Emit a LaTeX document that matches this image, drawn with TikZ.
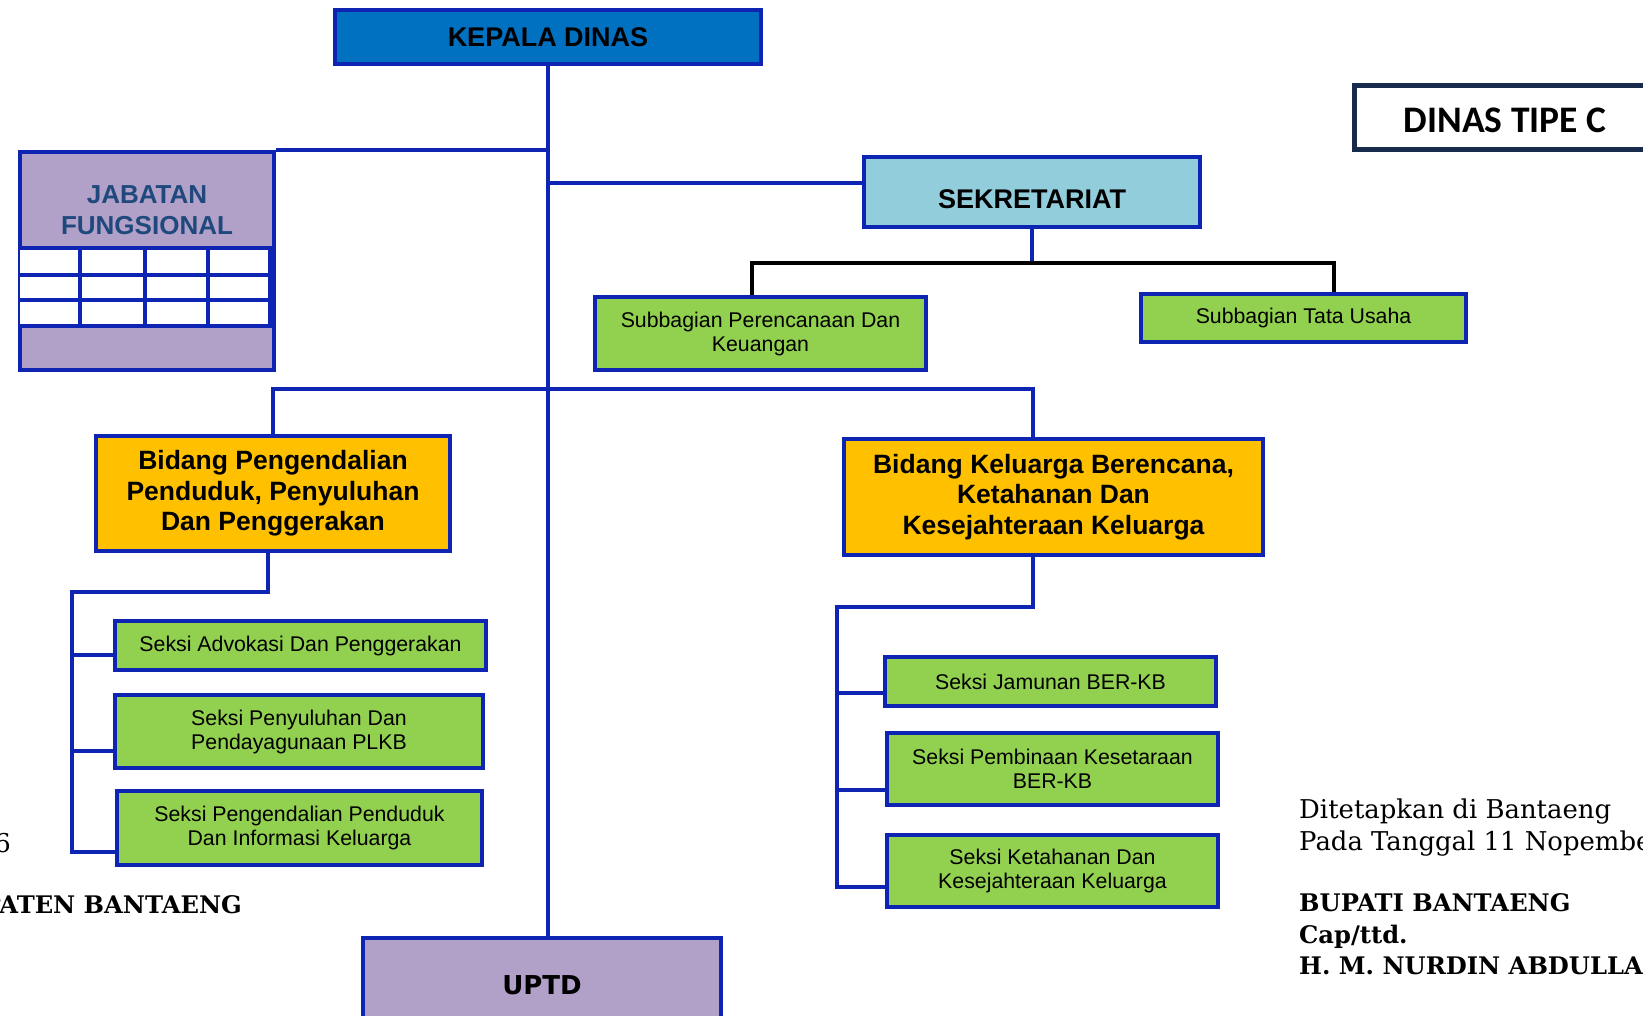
\documentclass[tikz,border=0pt]{standalone}
\usepackage{fontspec}
\setmainfont{Liberation Sans}
\newfontfamily\serifdoc{DejaVu Serif}
\newfontfamily\sansdv{DejaVu Sans}
\newfontfamily\calibri{Carlito}
\usepackage{tikz}
\usetikzlibrary{calc}

\definecolor{garis}{RGB}{13,37,178}
\definecolor{biru}{RGB}{0,112,192}
\definecolor{ungu}{RGB}{177,160,199}
\definecolor{tosca}{RGB}{146,205,220}
\definecolor{hijau}{RGB}{146,208,80}
\definecolor{kuning}{RGB}{255,192,0}
\definecolor{navy}{RGB}{23,43,77}
\definecolor{teksbiru}{RGB}{31,73,125}

\begin{document}
\begin{tikzpicture}[x=1pt,y=-1pt]
		\tikzstyle {unit box} = [draw=garis, line width=3.5pt, inner sep=0pt, align=center]
		\tikzstyle {seksi box} = [unit box, fill=hijau, font=\fontsize{21.3}{24}\selectfont]
		\tikzstyle {bidang box} = [unit box, fill=kuning, font=\bfseries\fontsize{26.5}{30.5}\selectfont]
		\tikzstyle {tree line} = [draw=garis, line width=4pt]
		\tikzstyle {black line} = [draw=black, line width=4pt]
		\tikzstyle {doc text} = [inner sep=0pt, font=\serifdoc\fontsize{25.9}{31}\selectfont]
		\tikzstyle {doc bold} = [inner sep=0pt, font=\serifdoc\bfseries\fontsize{24.2}{31}\selectfont]

		\useasboundingbox (0,0) rectangle (1643,1015);
		\fill[white] (0,0) rectangle (1643,1015);

		% background page text
		\node[doc text, anchor=base east] (nomor) at (11,852) {6};
		\node[doc bold, anchor=base east] (kab) at (242,913) {PATEN BANTAENG};
		\node[doc text, anchor=base west] (tetap) at (1299,818) {Ditetapkan di Bantaeng};
		\node[doc text, anchor=base west] (tanggal) at (1299,850) {Pada Tanggal 11 Nopember};
		\node[doc bold, anchor=base west] (bupati) at (1299,911) {BUPATI BANTAENG};
		\node[doc bold, anchor=base west] (cap) at (1299,943) {Cap/ttd.};
		\node[doc bold, anchor=base west] (nama) at (1299,974) {H. M. NURDIN ABDULLAH};

		\node[draw=navy, line width=5pt, minimum width=301, minimum height=64, inner sep=0pt, text height=30pt,
			font=\calibri\bfseries\fontsize{37.5}{40}\selectfont] (tipe) at (1505,117.5) {DINAS TIPE C};

		% boxes
		\node[unit box, fill=biru, minimum width=426, minimum height=54, font=\bfseries\fontsize{27}{30}\selectfont] (kepala) at (548,37) {KEPALA DINAS};
		\node[unit box, fill=ungu, minimum width=254, minimum height=218] (jabfung) at (147,261) {};
		\node[inner sep=0pt, align=center, text=teksbiru, font=\bfseries\fontsize{26}{31}\selectfont] (jftitle) at (147,210) {JABATAN\\FUNGSIONAL};
		\fill[white] (20,248) rectangle (270,326);
		\foreach \y in {248,275,300,326}
			\draw[tree line, line width=3.5pt] (20,\y) -- (272,\y);
		\foreach \x in {80,145,208,270}
			\draw[tree line, line width=3.5pt] (\x,248) -- (\x,326);

		\node[unit box, fill=tosca, minimum width=336, minimum height=70, text height=33pt, font=\bfseries\fontsize{27}{30}\selectfont] (sek) at (1032,192) {SEKRETARIAT};
		\node[seksi box, minimum width=331, minimum height=73] (subperenc) at (760.5,333.5) {Subbagian Perencanaan Dan\\Keuangan};
		\node[seksi box, minimum width=325, minimum height=48] (subtu) at (1303.5,318) {Subbagian Tata Usaha};

		\node[bidang box, minimum width=354, minimum height=115] (bidpp) at (273,493.5) {Bidang Pengendalian\\Penduduk, Penyuluhan\\Dan Penggerakan};
		\node[bidang box, minimum width=419, minimum height=116] (bidkb) at (1053.5,497) {Bidang Keluarga Berencana,\\Ketahanan Dan\\Kesejahteraan Keluarga};

		\node[seksi box, minimum width=371, minimum height=49] (skadv) at (300.5,645.5) {Seksi Advokasi Dan Penggerakan};
		\node[seksi box, minimum width=368, minimum height=73] (skpenyul) at (299,731.5) {Seksi Penyuluhan Dan\\Pendayagunaan PLKB};
		\node[seksi box, minimum width=365, minimum height=74] (skpend) at (299.5,828) {Seksi Pengendalian Penduduk\\Dan Informasi Keluarga};

		\node[seksi box, minimum width=331, minimum height=49] (skjamin) at (1050.5,681.5) {Seksi Jamunan BER-KB};
		\node[seksi box, minimum width=331, minimum height=72] (skbina) at (1052.5,769) {Seksi Pembinaan Kesetaraan\\BER-KB};
		\node[seksi box, minimum width=331, minimum height=72] (sktahan) at (1052.5,871) {Seksi Ketahanan Dan\\Kesejahteraan Keluarga};

		\node[unit box, fill=ungu, minimum width=358, minimum height=94, font=\sansdv\bfseries\fontsize{26}{30}\selectfont] (uptd) at (542,985) {UPTD};

		% connectors
		\coordinate (bar bidang) at (547,389);
		\coordinate (bar sek) at (1032,263);
		\coordinate (rel kiri) at (72,592);
		\coordinate (rel kanan) at (837,607);

		\draw[tree line] (kepala.south) -- (kepala.south |- uptd.north);
		\draw[tree line] (jabfung.north east) -- (jabfung.north east -| kepala.south);
		\draw[tree line] ([yshift=9]sek.west) -- ([yshift=9]sek.west -| kepala.south);
		\draw[tree line] (sek.south) -- (sek.south |- bar sek);
		\draw[black line] ([xshift=-9]subperenc.north) |- (bar sek) -| ([xshift=30.5]subtu.north);

		\draw[tree line] (bidpp.north) |- (bar bidang) -| ([xshift=-21]bidkb.north);

		\draw[tree line] ([xshift=-5]bidpp.south) |- (rel kiri) |- ([yshift=-24]skpend.west);
		\foreach \n/\d in {skadv/-9.5, skpenyul/-19.5}
			\draw[tree line] ([yshift=\d]\n.west) -| (rel kiri);

		\draw[tree line] ([xshift=-20.5]bidkb.south) |- (rel kanan) |- ([yshift=-16]sktahan.west);
		\foreach \n/\d in {skjamin/-11.5, skbina/-21}
			\draw[tree line] ([yshift=\d]\n.west) -| (rel kanan);
\end{tikzpicture}
\end{document}
